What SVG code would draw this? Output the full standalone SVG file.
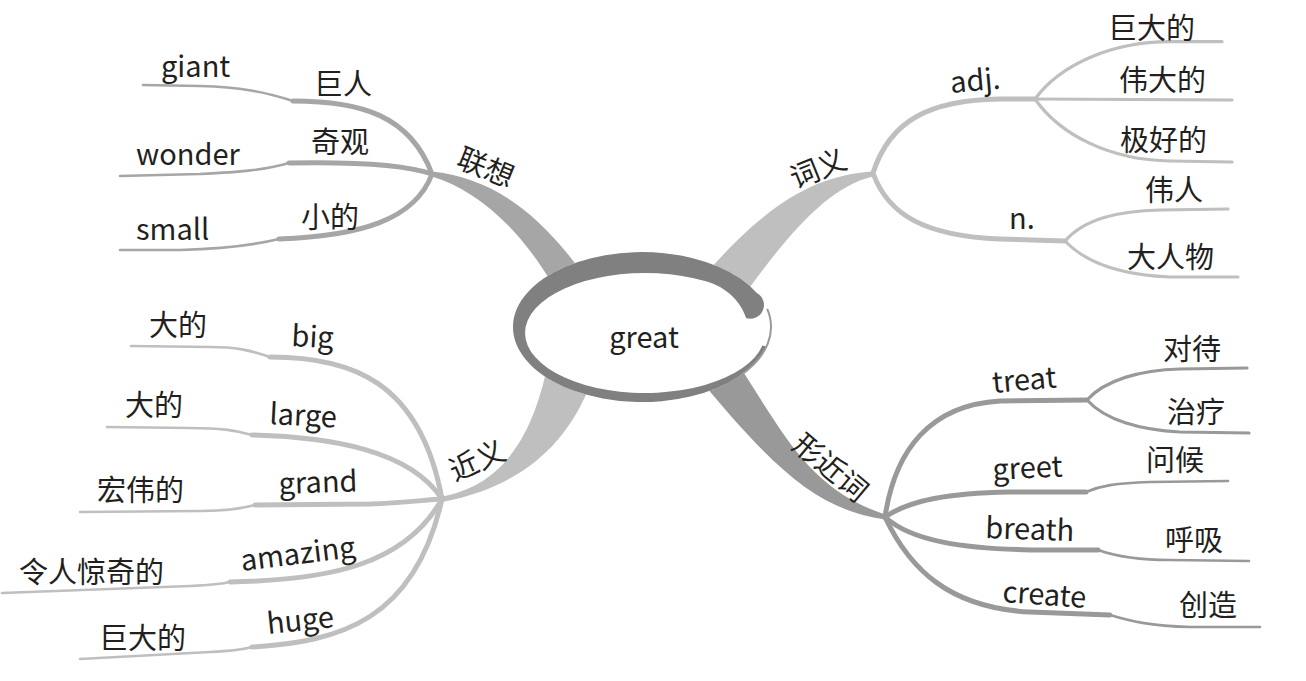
<svg xmlns="http://www.w3.org/2000/svg" width="1306" height="681" viewBox="0 0 1306 681">
<style>
.t{font-family:"Noto Sans CJK SC","Noto Sans",sans-serif;font-size:29px;fill:#231f20}
.c{text-anchor:middle}
.a{fill:none;stroke-linecap:round;stroke-linejoin:round;stroke-width:5}
.b{fill:none;stroke-linecap:round;stroke-linejoin:round;stroke-width:2.6}
.m{fill:none;stroke-linecap:round;stroke-linejoin:round;stroke-width:3.2}
.g1{stroke:#a6a6a6}
.g2{stroke:#bfbfbf}
.g3{stroke:#bfbfbf}
.g4{stroke:#999999}
</style>
<rect width="1306" height="681" fill="#ffffff"/>
<g id="connectors">
  <!-- main branches -->
  <path d="M432,171.5 C484,177 532,204 580,270 L553,285 C518,226 476,190 432,176.5 Z" fill="#a6a6a6"/>
  <path d="M873,171.5 C818,175 772,200 711,268 L748,290 C792,229 831,186 873,176.5 Z" fill="#bfbfbf"/>
  <path d="M442,496.5 C492,487 528,452 546,372 L588,390 C566,442 525,486 442,502 Z" fill="#bfbfbf"/>
  <path d="M885,519.5 C818,510 776,470 706,387 L742,370 C787,440 812,490 885,514.5 Z" fill="#999999"/>
  <!-- 联想 -->
  <path class="a g1" d="M293,101 C360,101 410,115 432,174"/>
  <path class="b g1" d="M293,101 C265,92 240,87 200,86 L143,85"/>
  <path class="a g1" d="M289,163 C340,162 400,163 432,174"/>
  <path class="b g1" d="M289,163 C265,170 240,172 200,174 L120,176"/>
  <path class="a g1" d="M279,239 C360,236 415,220 432,174"/>
  <path class="b g1" d="M279,239 C250,246 220,249 180,250 L120,250"/>
  <!-- 词义 -->
  <path class="a g2" d="M873,173 C890,120 930,100 1000,99 L1035,99"/>
  <path class="a g2" d="M873,173 C888,215 925,236 1000,239 L1065,241"/>
  <path class="m g2" d="M1035,99 C1060,65 1110,42 1170,41.7 L1222,41.7"/>
  <path class="m g2" d="M1035,99 L1232,100"/>
  <path class="m g2" d="M1035,99 C1060,135 1110,160 1170,161 L1232,162"/>
  <path class="m g2" d="M1065,241 C1085,218 1120,211 1160,210 L1228,209"/>
  <path class="m g2" d="M1065,241 C1085,262 1120,275 1170,277 L1238,277"/>
  <!-- 近义 -->
  <path class="a g3" d="M270,357 C350,357 420,380 442,499"/>
  <path class="b g3" d="M270,357 C250,350 235,347 210,347 L131,346"/>
  <path class="a g3" d="M252,435 C330,437 410,450 442,499"/>
  <path class="b g3" d="M252,435 C235,430 220,428 190,428 L107,427"/>
  <path class="a g3" d="M255,505 L370,504 C400,503 425,500 442,499"/>
  <path class="b g3" d="M255,505 C240,509 225,511 200,511 L80,512"/>
  <path class="a g3" d="M230,582 C330,580 405,565 442,499"/>
  <path class="b g3" d="M230,582 C222,584 210,585 190,586 L2,593"/>
  <path class="a g3" d="M252,647 C340,642 415,620 442,499"/>
  <path class="b g3" d="M252,647 C242,650 230,651 210,652 L80,659"/>
  <!-- 形近词 -->
  <path class="a g4" d="M885,517 C895,450 930,405 1000,401 L1087,400"/>
  <path class="m g4" d="M1087,400 C1105,380 1140,370 1180,369 L1247,368"/>
  <path class="m g4" d="M1087,400 C1105,420 1140,430 1180,432 L1249,433"/>
  <path class="a g4" d="M885,517 C910,500 950,493 1009,492 L1086,492"/>
  <path class="b g4" d="M1086,492 C1100,486 1115,483 1150,482 L1228,481"/>
  <path class="a g4" d="M885,517 C910,540 960,550 1048,550 L1098,550"/>
  <path class="b g4" d="M1098,550 C1115,556 1135,560 1170,560 L1249,561"/>
  <path class="a g4" d="M885,517 C910,570 950,608 1030,612 L1110,615"/>
  <path class="b g4" d="M1110,615 C1130,621 1150,626 1190,627 L1260,627"/>
</g>
<g id="center">
  <ellipse cx="642" cy="327" rx="129" ry="75" fill="#ffffff"/>
  <path d="M756.9,293 A129,75 0 1 0 766.6,346.4 L762.4,345.5 A120,60 0 1 1 705,281 C728,287 742,304 746,318 A13.7,13.7 0 0 0 756.9,293 Z" fill="#808080"/>
  <path d="M767.2,308.9 A129,75 0 0 1 740.8,375.2" fill="none" stroke="#9a9a9a" stroke-width="2"/>
  <text class="t c" x="644" y="348">great</text>
</g>
<g id="n-lianxiang">
  <text class="t" transform="translate(486,167) rotate(22)" text-anchor="middle" y="11">联想</text>
</g>
<g id="n-giant"><text class="t" x="161" y="77">giant</text><text class="t" x="314" y="95">巨人</text></g>
<g id="n-wonder"><text class="t" x="136" y="165">wonder</text><text class="t" x="311" y="153">奇观</text></g>
<g id="n-small"><text class="t" x="136" y="240">small</text><text class="t" x="301" y="228">小的</text></g>
<g id="n-ciyi">
  <text class="t" transform="translate(818,168) rotate(-22)" text-anchor="middle" y="11">词义</text>
</g>
<g id="n-adj">
  <text class="t" transform="translate(951,93) rotate(-5)">adj.</text>
  <text class="t" x="1108" y="39">巨大的</text>
  <text class="t" x="1119" y="91">伟大的</text>
  <text class="t" x="1120" y="151">极好的</text>
</g>
<g id="n-n">
  <text class="t" x="1009" y="229">n.</text>
  <text class="t" x="1145" y="201">伟人</text>
  <text class="t" x="1127" y="268">大人物</text>
</g>
<g id="n-jinyi">
  <text class="t" transform="translate(477,460) rotate(-24)" text-anchor="middle" y="11">近义</text>
</g>
<g id="n-big"><text class="t" x="149" y="336">大的</text><text class="t" transform="translate(291,346) rotate(3)">big</text></g>
<g id="n-large"><text class="t" x="125" y="416">大的</text><text class="t" transform="translate(269,424) rotate(3)">large</text></g>
<g id="n-grand"><text class="t" x="97" y="501">宏伟的</text><text class="t" transform="translate(279,494) rotate(-2)">grand</text></g>
<g id="n-amazing"><text class="t" x="19" y="583">令人惊奇的</text><text class="t" transform="translate(242,571) rotate(-7)">amazing</text></g>
<g id="n-huge"><text class="t" x="99" y="649">巨大的</text><text class="t" transform="translate(268,634) rotate(-6)">huge</text></g>
<g id="n-xingjinci">
  <text class="t" transform="translate(831,467) rotate(40)" text-anchor="middle" y="11">形近词</text>
</g>
<g id="n-treat">
  <text class="t" transform="translate(993,393) rotate(-5)">treat</text>
  <text class="t" x="1163" y="360">对待</text>
  <text class="t" x="1167" y="423">治疗</text>
</g>
<g id="n-greet"><text class="t" transform="translate(993,480) rotate(-3)">greet</text><text class="t" x="1146" y="471">问候</text></g>
<g id="n-breath"><text class="t" transform="translate(985,538) rotate(2)">breath</text><text class="t" x="1165" y="551">呼吸</text></g>
<g id="n-create"><text class="t" transform="translate(1002,602) rotate(4)">create</text><text class="t" x="1179" y="616">创造</text></g>
</svg>
